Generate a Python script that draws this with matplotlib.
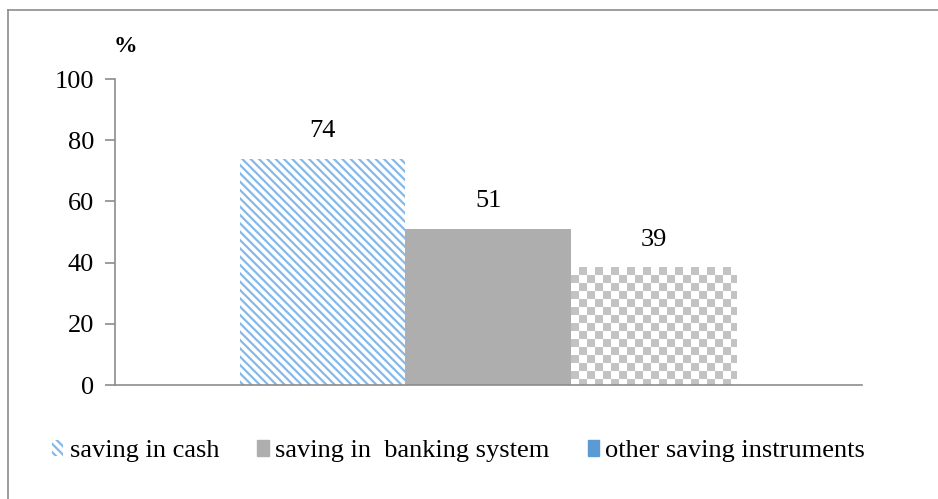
import numpy as np
import matplotlib
matplotlib.use("Agg")
import matplotlib.pyplot as plt
from matplotlib.patches import Patch
from matplotlib.lines import Line2D
from matplotlib.colors import ListedColormap

categories = ["saving in cash", "saving in  banking system", "other saving instruments"]
values = [74, 51, 38.5]
labels = ["74", "51", "39"]
yticks = [0, 20, 40, 60, 80, 100]

plt.rcParams["font.family"] = ["Liberation Serif", "DejaVu Serif"]
plt.rcParams["hatch.linewidth"] = 1.6

W, H = 938, 499
fig = plt.figure(figsize=(W / 100, H / 100), dpi=100)
ax = fig.add_axes([115 / W, 1 - 385 / H, (862 - 115) / W, (385 - 79) / H])

x = np.arange(len(categories))
blue = "#86B8E8"
gray = "#AEAEAE"
check = "#C3C3C3"

b1 = ax.bar(x[0], values[0], width=1.0, facecolor="white", edgecolor=blue,
            hatch="\\" * 4, linewidth=0)
b2 = ax.bar(x[1], values[1], width=1.0, facecolor=gray, edgecolor=gray, linewidth=0)
b3 = ax.bar(x[2], values[2], width=1.0, facecolor="white", edgecolor="white", linewidth=0)

ax.set_xlim(-1.255, 3.259)
ax.set_ylim(0, 100)

# checkerboard texture clipped to the third bar
fig.canvas.draw()
patch = b3.patches[0]
bb = patch.get_window_extent()
sq = 8
nx = int(np.ceil(bb.width / sq))
ny = int(np.ceil(bb.height / sq))
grid = (np.add.outer(np.arange(ny)[::-1], np.arange(nx)) % 2).astype(float)
x0 = patch.get_x()
dx = patch.get_width() / bb.width
dy = patch.get_height() / bb.height
yt = patch.get_height()
cmap = ListedColormap(["white", check])
im = ax.imshow(grid, cmap=cmap, vmin=0, vmax=1, origin="upper",
               extent=[x0, x0 + nx * sq * dx, yt - ny * sq * dy, yt],
               interpolation="nearest", aspect="auto", zorder=1.5)
im.set_clip_path(patch)
ax.set_xlim(-1.255, 3.259)
ax.set_ylim(0, 100)

for xi, v, lab in zip(x, values, labels):
    ax.annotate(lab, (xi, v), xytext=(0, 12), textcoords="offset points",
                ha="center", va="bottom", fontsize=19)

ax.set_yticks(yticks)
ax.set_xticks([])
for s in ["top", "right"]:
    ax.spines[s].set_visible(False)
for s in ["left", "bottom"]:
    ax.spines[s].set_color("#8C8C8C")
    ax.spines[s].set_linewidth(1.2)
ax.tick_params(axis="y", direction="out", length=7, color="#8C8C8C",
               width=1.2, labelsize=19, pad=8)

fig.text(125 / W, 1 - 46 / H, "%", fontsize=17, fontweight="bold",
         ha="center", va="center")

handles = [
    Patch(facecolor="white", edgecolor=blue, hatch="\\" * 4, linewidth=0),
    Patch(facecolor=gray, edgecolor=gray),
    Patch(facecolor="#5B9BD5", edgecolor="#5B9BD5"),
]
leg = fig.legend(handles, categories, loc="center left",
                 bbox_to_anchor=(52 / W, 1 - 451 / H), ncol=3, frameon=False,
                 fontsize=19, handlelength=0.42, handleheight=0.55,
                 handletextpad=0.25, columnspacing=1.45, borderaxespad=0,
                 borderpad=0)

# figure border (top and left only, as cropped in reference)
fig.add_artist(Line2D([8 / W, 8 / W], [0, 1 - 10 / H], transform=fig.transFigure,
                      color="#8C8C8C", linewidth=1.2))
fig.add_artist(Line2D([8 / W, 1], [1 - 10 / H, 1 - 10 / H], transform=fig.transFigure,
                      color="#8C8C8C", linewidth=1.2))

fig.savefig("out.png", dpi=100)
